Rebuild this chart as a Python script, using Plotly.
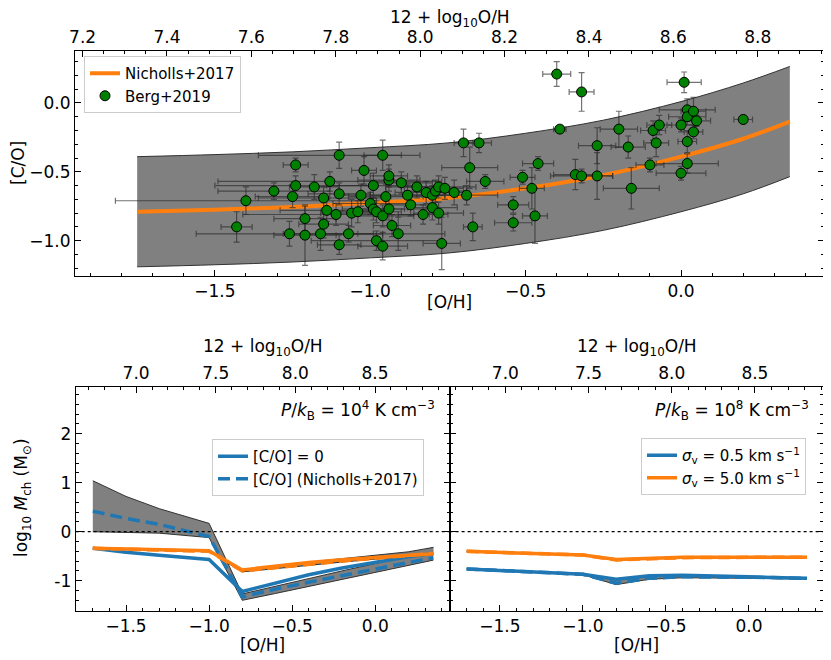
import plotly.graph_objects as go

# ---------------- data: top panel ----------------
# Nicholls+2017 relation and its spread
nich_oh = [-1.75, -1.5, -1.25, -1.0, -0.75, -0.5, -0.25, 0.0, 0.2, 0.35]
nich_co = [-0.79, -0.775, -0.755, -0.725, -0.69, -0.62, -0.525, -0.39, -0.26, -0.135]
nich_up = [-0.39, -0.375, -0.355, -0.325, -0.29, -0.22, -0.125, 0.01, 0.145, 0.265]
nich_lo = [-1.19, -1.175, -1.155, -1.125, -1.09, -1.02, -0.925, -0.79, -0.66, -0.535]

# Berg+2019 points
berg_oh = [-1.43, -1.40, -1.31, -1.26, -1.25, -1.24, -1.24, -1.21, -1.21, -1.18,
           -1.16, -1.15, -1.15, -1.14, -1.13, -1.11, -1.10, -1.10, -1.10, -1.07,
           -1.06, -1.04, -1.03, -1.02, -1.00, -0.99, -0.99, -0.98, -0.98, -0.96,
           -0.96, -0.96, -0.95, -0.94, -0.94, -0.94, -0.93, -0.91, -0.90, -0.88,
           -0.87, -0.85, -0.83, -0.82, -0.80, -0.80, -0.79, -0.78, -0.78, -0.77,
           -0.76, -0.73, -0.70, -0.69, -0.68, -0.67, -0.65, -0.63, -0.54, -0.54,
           -0.51, -0.48, -0.47, -0.46, -0.40, -0.39, -0.34, -0.32, -0.32, -0.27,
           -0.27, -0.20, -0.17, -0.16, -0.10, -0.09, -0.08, -0.07, 0.00, 0.00,
           0.01, 0.02, 0.02, 0.02, 0.02, 0.04, 0.04, 0.05, 0.20]
berg_co = [-0.90, -0.71, -0.64, -0.95, -0.68, -0.60, -0.45, -0.84, -0.96, -0.61,
           -0.95, -0.69, -0.88, -0.78, -0.57, -0.81, -1.03, -0.66, -0.38, -0.95,
           -0.80, -0.79, -0.67, -0.49, -0.73, -0.60, -0.77, -0.79, -1.00, -0.38,
           -1.04, -0.82, -0.68, -0.56, -0.53, -0.77, -0.89, -0.95, -0.58, -0.67,
           -0.74, -0.61, -0.81, -0.65, -0.76, -0.67, -0.64, -0.80, -0.61, -1.02,
           -0.62, -0.65, -0.29, -0.67, -0.47, -0.90, -0.29, -0.57, -0.74, -0.87,
           -0.54, -0.62, -0.82, -0.44, 0.21, -0.19, -0.52, 0.08, -0.53, -0.31,
           -0.53, -0.19, -0.32, -0.62, -0.45, -0.20, -0.29, -0.16, -0.16, -0.51,
           0.15, -0.05, -0.10, -0.28, -0.44, -0.06, -0.21, -0.13, -0.12]
berg_oh_err = [0.05, 0.42, 0.18, 0.30, 0.12, 0.26, 0.04, 0.10, 0.10, 0.08,
               0.12, 0.21, 0.08, 0.15, 0.36, 0.30, 0.07, 0.10, 0.26, 0.08,
               0.10, 0.10, 0.08, 0.04, 0.12, 0.15, 0.10, 0.08, 0.21, 0.06,
               0.08, 0.10, 0.12, 0.10, 0.06, 0.12, 0.06, 0.15, 0.10, 0.12,
               0.08, 0.10, 0.08, 0.10, 0.08, 0.08, 0.10, 0.08, 0.12, 0.06,
               0.06, 0.05, 0.03, 0.10, 0.09, 0.03, 0.04, 0.06, 0.05, 0.06,
               0.04, 0.04, 0.04, 0.05, 0.045, 0.02, 0.07, 0.04, 0.10, 0.06,
               0.05, 0.06, 0.055, 0.09, 0.045, 0.04, 0.04, 0.04, 0.045, 0.08,
               0.055, 0.09, 0.06, 0.03, 0.10, 0.04, 0.03, 0.045, 0.03]
berg_co_err = [0.11, 0.10, 0.06, 0.09, 0.08, 0.07, 0.05, 0.09, 0.22, 0.09,
               0.12, 0.08, 0.10, 0.08, 0.07, 0.08, 0.07, 0.08, 0.095, 0.06,
               0.10, 0.08, 0.08, 0.10, 0.08, 0.09, 0.08, 0.08, 0.07, 0.11,
               0.10, 0.08, 0.09, 0.08, 0.08, 0.08, 0.08, 0.12, 0.08, 0.08,
               0.08, 0.08, 0.07, 0.08, 0.09, 0.07, 0.08, 0.08, 0.08, 0.19,
               0.08, 0.09, 0.10, 0.07, 0.15, 0.10, 0.07, 0.05, 0.06, 0.06,
               0.05, 0.15, 0.20, 0.05, 0.09, 0.02, 0.11, 0.14, 0.05, 0.13,
               0.17, 0.13, 0.08, 0.15, 0.05, 0.07, 0.10, 0.07, 0.05, 0.05,
               0.075, 0.08, 0.06, 0.08, 0.07, 0.10, 0.05, 0.04, 0.03]

# ---------------- data: bottom panels ----------------
grid_oh = [-1.7, -1.5, -1.3, -1.0, -0.8, -0.6, -0.4, -0.2, 0.0, 0.2, 0.35]

# P/kB = 1e4
lo_blue_solid = [-0.34, -0.42, -0.48, -0.565, -1.22, -1.05, -0.88, -0.74, -0.62, -0.51, -0.44]
lo_blue_dash = [0.42, 0.27, 0.15, -0.10, -1.33, -1.17, -1.03, -0.90, -0.77, -0.63, -0.53]
lo_blue_up = [1.04, 0.72, 0.47, 0.17, -1.27, -1.11, -0.96, -0.80, -0.65, -0.48, -0.32]
lo_blue_lo = [0.0, -0.01, -0.03, -0.12, -1.40, -1.26, -1.12, -0.98, -0.84, -0.70, -0.58]
lo_orange_solid = [-0.34, -0.355, -0.365, -0.39, -0.78, -0.70, -0.63, -0.57, -0.52, -0.48, -0.45]
lo_orange_dash = [-0.34, -0.355, -0.37, -0.40, -0.80, -0.73, -0.66, -0.60, -0.54, -0.49, -0.44]
lo_orange_up = [-0.33, -0.345, -0.36, -0.38, -0.77, -0.69, -0.62, -0.55, -0.48, -0.41, -0.32]
lo_orange_lo = [-0.35, -0.365, -0.38, -0.41, -0.82, -0.75, -0.68, -0.62, -0.56, -0.51, -0.47]

# P/kB = 1e8
hi_blue_solid = [-0.76, -0.79, -0.82, -0.87, -0.97, -0.90, -0.89, -0.90, -0.92, -0.94, -0.95]
hi_blue_dash = [-0.76, -0.79, -0.82, -0.87, -1.05, -0.95, -0.92, -0.92, -0.93, -0.94, -0.95]
hi_blue_up = [-0.75, -0.78, -0.81, -0.86, -0.96, -0.89, -0.88, -0.89, -0.91, -0.93, -0.94]
hi_blue_lo = [-0.77, -0.80, -0.83, -0.88, -1.08, -0.97, -0.94, -0.94, -0.95, -0.96, -0.96]
hi_orange_solid = [-0.40, -0.42, -0.44, -0.476, -0.565, -0.537, -0.52, -0.52, -0.52, -0.52, -0.52]
hi_orange_dash = [-0.40, -0.42, -0.44, -0.476, -0.575, -0.545, -0.53, -0.525, -0.525, -0.52, -0.52]
hi_orange_up = [-0.395, -0.415, -0.435, -0.47, -0.56, -0.53, -0.515, -0.515, -0.515, -0.515, -0.515]
hi_orange_lo = [-0.405, -0.425, -0.445, -0.48, -0.59, -0.555, -0.54, -0.535, -0.53, -0.525, -0.525]

# ---------------- styling ----------------
PAGE_W, PAGE_H = 831, 660
OFF = 8                       # default page margin around the plot div
W, H = PAGE_W - OFF, PAGE_H - OFF
FONT = "DejaVu Sans"
BLUE = "#1f77b4"
ORANGE = "#ff7f0e"
BAND = "rgb(128,128,128)"
EDGE = "rgb(50,50,50)"


def fx(p):
    """page pixel x -> paper fraction"""
    return (p - OFF) / W


def fy(p):
    """page pixel y -> paper fraction"""
    return (PAGE_H - p) / H


fig = go.Figure()

# ---- top panel ----
fig.add_trace(go.Scatter(x=nich_oh, y=nich_lo, mode="lines", line=dict(color=EDGE, width=1, shape="spline"),
                         showlegend=False, hoverinfo="skip", xaxis="x", yaxis="y"))
fig.add_trace(go.Scatter(x=nich_oh, y=nich_up, mode="lines", line=dict(color=EDGE, width=1, shape="spline"),
                         fill="tonexty", fillcolor=BAND, showlegend=False, hoverinfo="skip",
                         xaxis="x", yaxis="y"))
fig.add_trace(go.Scatter(x=nich_oh, y=nich_co, mode="lines", name="Nicholls+2017",
                         line=dict(color=ORANGE, width=4, shape="spline"), xaxis="x", yaxis="y",
                         legend="legend"))
fig.add_trace(go.Scatter(x=berg_oh, y=berg_co, mode="markers", name="Berg+2019",
                         marker=dict(color="#008000", size=10, line=dict(color="black", width=1)),
                         error_x=dict(type="data", array=berg_oh_err, color="rgba(40,40,40,0.65)",
                                      thickness=1.2, width=3),
                         error_y=dict(type="data", array=berg_co_err, color="rgba(40,40,40,0.65)",
                                      thickness=1.2, width=3),
                         xaxis="x", yaxis="y", legend="legend"))
fig.add_trace(go.Scatter(x=[], y=[], xaxis="x2", yaxis="y", showlegend=False, hoverinfo="skip"))


def panel(xa, ya, xt, bs, bd, bu, bl, os_, od, ou, ol, leg, names):
    for up, lo in ((bu, bl), (ou, ol)):
        fig.add_trace(go.Scatter(x=grid_oh, y=lo, mode="lines", line=dict(color=EDGE, width=1),
                                 showlegend=False, hoverinfo="skip", xaxis=xa, yaxis=ya))
        fig.add_trace(go.Scatter(x=grid_oh, y=up, mode="lines", line=dict(color=EDGE, width=1),
                                 fill="tonexty", fillcolor=BAND, showlegend=False, hoverinfo="skip",
                                 xaxis=xa, yaxis=ya))
    fig.add_trace(go.Scatter(x=grid_oh, y=bs, mode="lines", name=names[0],
                             line=dict(color=BLUE, width=3.5), legend=leg, xaxis=xa, yaxis=ya,
                             legendrank=1))
    fig.add_trace(go.Scatter(x=grid_oh, y=bd, mode="lines", name=names[1],
                             line=dict(color=BLUE, width=3.5, dash="12px,6px"),
                             showlegend=names[1] is not None, legend=leg, xaxis=xa, yaxis=ya,
                             legendrank=2))
    fig.add_trace(go.Scatter(x=grid_oh, y=od, mode="lines",
                             line=dict(color=ORANGE, width=3.5, dash="12px,6px"),
                             showlegend=False, xaxis=xa, yaxis=ya))
    fig.add_trace(go.Scatter(x=grid_oh, y=os_, mode="lines", name=names[2],
                             line=dict(color=ORANGE, width=3.5),
                             showlegend=names[2] is not None, legend=leg, xaxis=xa, yaxis=ya,
                             legendrank=3))
    fig.add_trace(go.Scatter(x=[], y=[], xaxis=xt, yaxis=ya, showlegend=False, hoverinfo="skip"))


panel("x3", "y3", "x4", lo_blue_solid, lo_blue_dash, lo_blue_up, lo_blue_lo,
      lo_orange_solid, lo_orange_dash, lo_orange_up, lo_orange_lo, "legend2",
      ["[C/O] = 0", "[C/O] (Nicholls+2017)", None])
panel("x5", "y5", "x6", hi_blue_solid, hi_blue_dash, hi_blue_up, hi_blue_lo,
      hi_orange_solid, hi_orange_dash, hi_orange_up, hi_orange_lo, "legend3",
      ["<i>σ</i><sub>v</sub> = 0.5 km s<sup>−1</sup>", None,
       "<i>σ</i><sub>v</sub> = 5.0 km s<sup>−1</sup>"])

TF = dict(family=FONT, size=17, color="black")


def ax(**kw):
    d = dict(showgrid=False, zeroline=False, showline=True, linecolor="black", linewidth=1,
             ticks="inside", ticklen=6, tickwidth=1, tickcolor="black", tickfont=TF,
             automargin=False)
    d.update(kw)
    return d


def minor(dt, t0):
    return dict(dtick=dt, tick0=t0, ticks="inside", ticklen=3, tickcolor="black")


top_dom_x = [fx(75), fx(824)]
top_dom_y = [fy(275.5), fy(50.5)]
bl_dom_x = [fx(75.7), fx(449.6)]
br_dom_x = [fx(449.6), fx(823.3)]
bot_dom_y = [fy(610.5), fy(387)]

tlog = "12 + log<sub>10</sub>O/H"
LEG = dict(xanchor="left", yanchor="top", bgcolor="white", bordercolor="#cccccc",
           borderwidth=1, font=dict(family=FONT, size=15), traceorder="normal")

fig.update_layout(
    width=W, height=H, margin=dict(l=0, r=0, t=0, b=0),
    paper_bgcolor="white", plot_bgcolor="white",
    font=dict(family=FONT, size=15, color="black"),
    xaxis=ax(domain=top_dom_x, anchor="y", range=[-1.95, 0.46], tick0=0, dtick=0.5,
             tickformat=".1f", minor=minor(0.1, 0)),
    xaxis2=ax(overlaying="x", anchor="y", side="top", range=[7.182, 8.957], tick0=7.2,
              dtick=0.2, tickformat=".1f", minor=minor(0.05, 7.2)),
    yaxis=ax(domain=top_dom_y, anchor="x", range=[-1.253, 0.381], tick0=0, dtick=0.5,
             tickformat=".1f", mirror="ticks", minor=minor(0.1, 0)),
    xaxis3=ax(domain=bl_dom_x, anchor="y3", range=[-1.803, 0.448], tick0=0, dtick=0.5,
              tickformat=".1f", minor=minor(0.1, 0)),
    xaxis4=ax(overlaying="x3", anchor="y3", side="top", range=[6.621, 8.968], tick0=7.0,
              dtick=0.5, tickformat=".1f", minor=minor(0.1, 7.0)),
    yaxis3=ax(domain=bot_dom_y, anchor="x3", range=[-1.608, 2.953], tickvals=[-1, 0, 1, 2],
              ticktext=["-1", "0", "1", "2"], mirror="ticks", minor=minor(0.2, 0)),
    xaxis5=ax(domain=br_dom_x, anchor="y5", range=[-1.803, 0.448], tick0=0, dtick=0.5,
              tickformat=".1f", minor=minor(0.1, 0)),
    xaxis6=ax(overlaying="x5", anchor="y5", side="top", range=[6.665, 8.911], tick0=7.0,
              dtick=0.5, tickformat=".1f", minor=minor(0.1, 7.0)),
    yaxis5=ax(domain=bot_dom_y, anchor="x5", range=[-1.608, 2.953], tickvals=[-1, 0, 1, 2],
              showticklabels=False, mirror="ticks", minor=minor(0.2, 0)),
    legend=dict(x=fx(84), y=fy(56), **LEG),
    legend2=dict(x=fx(212), y=fy(439), **LEG),
    legend3=dict(x=fx(641), y=fy(438), **LEG),
    showlegend=True,
)

# zero reference lines
for xr, yr in (("x3", "y3"), ("x5", "y5")):
    fig.add_shape(type="line", xref=f"{xr} domain", yref=yr, x0=0, x1=1, y0=0, y1=0,
                  line=dict(color="black", width=1.2, dash="dot"), layer="above")

# axis titles as annotations (page-pixel positions from the reference)
titles = [
    (tlog, 449.5, 18, 0),
    ("[O/H]", 449.5, 302, 0),
    ("[C/O]", 18, 163, -90),
    (tlog, 262.6, 347, 0),
    (tlog, 636.5, 347, 0),
    ("[O/H]", 262.6, 645, 0),
    ("[O/H]", 636.5, 645, 0),
    ("log<sub>10</sub> <i>M</i><sub>ch</sub> (M<sub>⊙</sub>)", 22, 498, -90),
]
for txt, px, py, ang in titles:
    fig.add_annotation(text=txt, xref="paper", yref="paper", x=fx(px), y=fy(py),
                       xanchor="center", yanchor="middle", showarrow=False, textangle=ang,
                       font=TF)

ptxt = "<i>P</i>/<i>k</i><sub>B</sub> = 10<sup>{}</sup> K cm<sup>−3</sup>"
for xr, yr, p in (("x3", "y3", 4), ("x5", "y5", 8)):
    fig.add_annotation(text=ptxt.format(p), xref=f"{xr} domain", yref=f"{yr} domain",
                       x=0.967, y=0.897, xanchor="right", yanchor="middle", showarrow=False,
                       font=dict(family=FONT, size=17, color="black"))

fig.write_html("out.html")
